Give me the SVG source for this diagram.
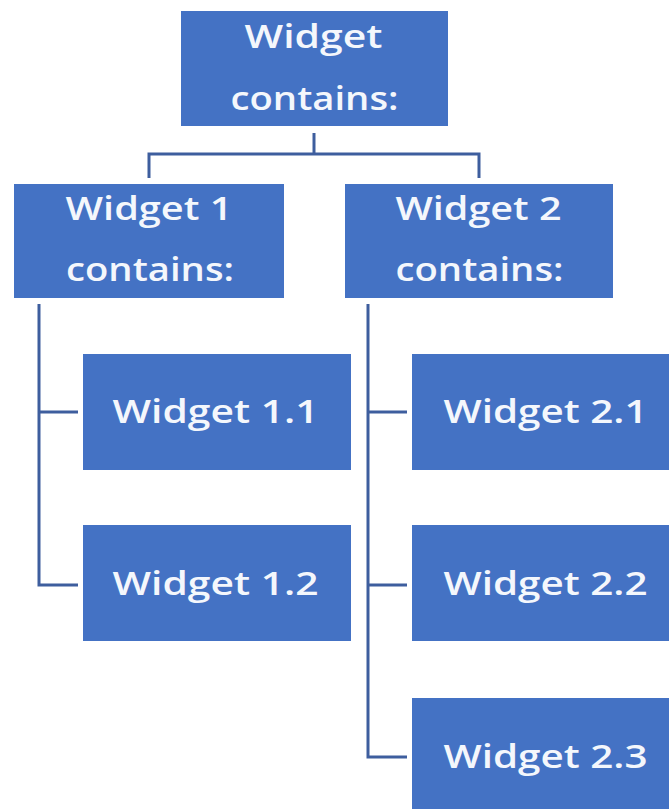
<svg xmlns="http://www.w3.org/2000/svg" width="669" height="809" viewBox="0 0 669 809">
  <style>
    .box { fill: #4472C4; }
    .lbl { font-family: "Open Sans", "Noto Sans", sans-serif; font-size: 32px; font-weight: 600; fill: #F4F7FC; text-anchor: middle; }
    .conn { fill: none; stroke: #3E5E9E; stroke-width: 3; stroke-linejoin: miter; stroke-linecap: butt; }
  </style>
  <rect width="669" height="809" fill="#FFFFFF"/>
  <g id="connectors">
    <path class="conn" d="M314,133 V154"/>
    <path class="conn" d="M149,178 V154 H479 V178"/>
    <path class="conn" d="M39,304 V585 H78"/>
    <path class="conn" d="M39,412 H78"/>
    <path class="conn" d="M368,304 V757 H407"/>
    <path class="conn" d="M368,412 H407"/>
    <path class="conn" d="M368,585 H407"/>
  </g>
  <g id="widget">
    <rect class="box" x="181" y="11" width="267" height="115"/>
    <text class="lbl" x="313.5" y="48" textLength="138" lengthAdjust="spacingAndGlyphs">Widget</text>
    <text class="lbl" x="314.5" y="110" textLength="168" lengthAdjust="spacingAndGlyphs">contains:</text>
  </g>
  <g id="widget1">
    <rect class="box" x="14" y="184" width="270" height="114"/>
    <text class="lbl" x="149" y="220" textLength="167" lengthAdjust="spacingAndGlyphs">Widget 1</text>
    <text class="lbl" x="150" y="281" textLength="168" lengthAdjust="spacingAndGlyphs">contains:</text>
  </g>
  <g id="widget2">
    <rect class="box" x="345" y="184" width="268" height="114"/>
    <text class="lbl" x="478.5" y="220" textLength="166" lengthAdjust="spacingAndGlyphs">Widget 2</text>
    <text class="lbl" x="479.5" y="281" textLength="168" lengthAdjust="spacingAndGlyphs">contains:</text>
  </g>
  <g id="widget1_1">
    <rect class="box" x="83" y="354" width="268" height="116"/>
    <text class="lbl" x="215.5" y="423" textLength="206" lengthAdjust="spacingAndGlyphs">Widget 1.1</text>
  </g>
  <g id="widget1_2">
    <rect class="box" x="83" y="525" width="268" height="116"/>
    <text class="lbl" x="215.5" y="595" textLength="206" lengthAdjust="spacingAndGlyphs">Widget 1.2</text>
  </g>
  <g id="widget2_1">
    <rect class="box" x="412" y="354" width="270" height="116"/>
    <text class="lbl" x="545.5" y="423" textLength="204" lengthAdjust="spacingAndGlyphs">Widget 2.1</text>
  </g>
  <g id="widget2_2">
    <rect class="box" x="412" y="525" width="270" height="116"/>
    <text class="lbl" x="545.5" y="595" textLength="204" lengthAdjust="spacingAndGlyphs">Widget 2.2</text>
  </g>
  <g id="widget2_3">
    <rect class="box" x="412" y="698" width="270" height="116"/>
    <text class="lbl" x="545.5" y="768" textLength="204" lengthAdjust="spacingAndGlyphs">Widget 2.3</text>
  </g>
</svg>
